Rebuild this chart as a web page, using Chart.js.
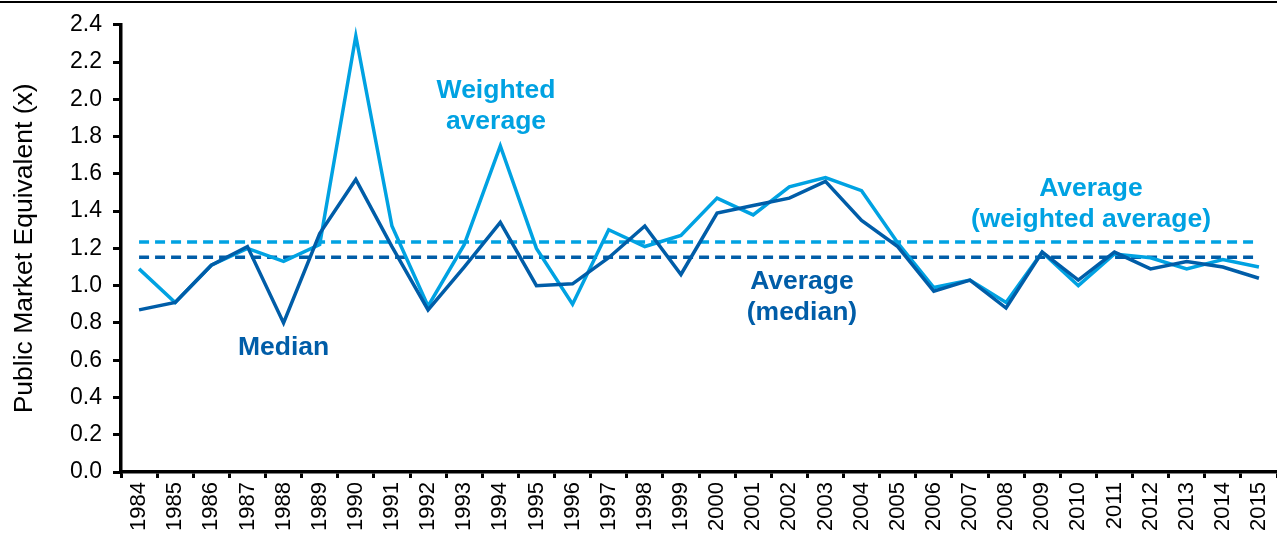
<!DOCTYPE html>
<html>
<head>
<meta charset="utf-8">
<script src="https://cdn.jsdelivr.net/npm/chart.js@4/dist/chart.umd.min.js"></script>
<style>
  html, body { margin: 0; padding: 0; background: #fff; }
  #wrap { width: 1277px; height: 539px; position: relative; }
</style>
</head>
<body>
<div id="wrap"><canvas id="pmeChart"></canvas></div>
<script>
const YEARS = ['1984', '1985', '1986', '1987', '1988', '1989', '1990', '1991', '1992', '1993', '1994',
  '1995', '1996', '1997', '1998', '1999', '2000', '2001', '2002', '2003', '2004', '2005', '2006',
  '2007', '2008', '2009', '2010', '2011', '2012', '2013', '2014', '2015'];

const WEIGHTED = [1.09, 0.91, 1.11, 1.20, 1.13, 1.22, 2.34, 1.32, 0.89, 1.22, 1.75, 1.20, 0.90, 1.30,
  1.21, 1.27, 1.47, 1.38, 1.53, 1.58, 1.51, 1.23, 0.99, 1.03, 0.91, 1.18, 1.00, 1.17, 1.15, 1.09, 1.14, 1.10];

const MEDIAN = [0.87, 0.91, 1.11, 1.21, 0.80, 1.28, 1.57, 1.21, 0.87, 1.10, 1.34, 1.00, 1.01, 1.15,
  1.32, 1.06, 1.39, 1.43, 1.47, 1.56, 1.35, 1.21, 0.97, 1.03, 0.88, 1.18, 1.03, 1.18, 1.09, 1.13, 1.10, 1.04];

const AVG_WEIGHTED = 1.234;
const AVG_MEDIAN = 1.152;

const Y_TICKS = ['0.0', '0.2', '0.4', '0.6', '0.8', '1.0', '1.2', '1.4', '1.6', '1.8', '2.0', '2.2', '2.4'];

const LIGHT = '#00A2E2';
const DARK = '#005DA8';
const FONT = "'Liberation Sans', Arial, sans-serif";

// text notes, placed in data units (category index, value)
const NOTES = [
  { lines: ['Weighted', 'average'], x: 9.88, y: 2.048, color: LIGHT },
  { lines: ['Median'], x: 4.0, y: 0.667, color: DARK },
  { lines: ['Average', '(median)'], x: 18.35, y: 1.019, color: DARK },
  { lines: ['Average', '(weighted average)'], x: 26.35, y: 1.52, color: LIGHT },
];

const notesPlugin = {
  id: 'notes',
  afterDatasetsDraw(chart) {
    const { ctx, scales } = chart;
    ctx.save();
    ctx.font = `bold 26.5px ${FONT}`;
    ctx.textAlign = 'center';
    ctx.textBaseline = 'middle';
    NOTES.forEach(n => {
      const px = scales.x.getPixelForValue(n.x);
      const py = scales.y.getPixelForValue(n.y);
      ctx.fillStyle = n.color;
      n.lines.forEach((t, i) => ctx.fillText(t, px, py + i * 31));
    });
    ctx.restore();
  },
};

const topRule = {
  id: 'topRule',
  beforeDraw(chart) {
    const { ctx, width } = chart;
    ctx.save();
    ctx.fillStyle = '#000';
    ctx.fillRect(0, 1, width, 2);
    ctx.restore();
  },
};

new Chart(document.getElementById('pmeChart'), {
  type: 'line',
  data: {
    labels: YEARS,
    datasets: [
      { label: 'Median', data: MEDIAN, borderColor: DARK, borderWidth: 3.5, pointRadius: 0, tension: 0, order: 0 },
      { label: 'Weighted average', data: WEIGHTED, borderColor: LIGHT, borderWidth: 3.5, pointRadius: 0, tension: 0, order: 1 },
      { label: 'Average (weighted average)', data: YEARS.map(() => AVG_WEIGHTED), borderColor: LIGHT, borderWidth: 3.5, borderDash: [10, 6], pointRadius: 0, order: 2 },
      { label: 'Average (median)', data: YEARS.map(() => AVG_MEDIAN), borderColor: DARK, borderWidth: 3.5, borderDash: [10, 6], pointRadius: 0, order: 2 },
    ],
  },
  options: {
    responsive: true,
    maintainAspectRatio: false,
    animation: false,
    layout: { padding: { top: 22, right: 0, bottom: 0, left: 0 } },
    plugins: {
      legend: { display: false },
      tooltip: { enabled: false },
    },
    scales: {
      x: {
        offset: true,
        grid: { offset: true, drawOnChartArea: false, color: '#000', lineWidth: 3, tickLength: 6 },
        border: { color: '#000', width: 3.5 },
        ticks: { color: '#000', font: { family: FONT, size: 22 }, minRotation: 90, maxRotation: 90, padding: 4, autoSkip: false },
        afterFit(scale) {
          scale.height = 67;
          scale.paddingLeft = 0;
          scale.paddingRight = 0;
        },
      },
      y: {
        min: 0,
        max: 2.4,
        grid: { drawOnChartArea: false, color: '#000', lineWidth: 3, tickLength: 8 },
        border: { color: '#000', width: 3.5 },
        ticks: {
          stepSize: 0.2,
          color: '#000',
          font: { family: FONT, size: 23 },
          padding: 11,
          callback: (v, i) => Y_TICKS[i],
        },
        title: {
          display: true,
          text: 'Public Market Equivalent (x)',
          color: '#000',
          font: { family: FONT, size: 26.5 },
          padding: { top: 9, bottom: 0 },
        },
        afterFit(scale) { scale.width = 121; },
      },
    },
  },
  plugins: [topRule, notesPlugin],
});
</script>
</body>
</html>
